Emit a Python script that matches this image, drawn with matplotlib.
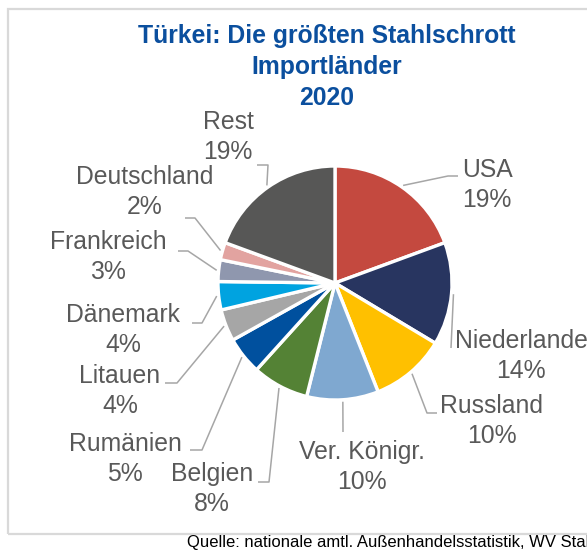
import matplotlib
matplotlib.use("Agg")
import matplotlib.pyplot as plt
from matplotlib import font_manager
import numpy as np

# ---- data ----
countries = ["USA", "Niederlande", "Russland", "Ver. Königr.", "Belgien", "Rumänien",
             "Litauen", "Dänemark", "Frankreich", "Deutschland", "Rest"]
shares = [19.4, 14.2, 10.4, 9.9, 7.8, 5.2, 4.4, 3.9, 3.0, 2.4, 19.4]
colors = ["#C4493F", "#283560", "#FFC000", "#7FA8D0", "#548235", "#00509E",
          "#A6A6A6", "#00A3E0", "#8F97AE", "#E2A3A0", "#575756"]
title = "Türkei: Die größten Stahlschrott\nImportländer\n2020"
source = "Quelle: nationale amtl. Außenhandelsstatistik, WV Stahl"

# ---- layout (pixel coordinates, y downward) ----
label_pos = {
    "USA": (487, 185), "Niederlande": (521, 356), "Russland": (492, 421),
    "Ver. Königr.": (362, 467), "Belgien": (212, 489), "Rumänien": (125, 459),
    "Litauen": (120, 391), "Dänemark": (123, 330), "Frankreich": (108, 257),
    "Deutschland": (145, 192), "Rest": (228, 137),
}
# elbow and end of leader lines
leaders = {
    "USA": [(448, 176), (458, 176)],
    "Niederlande": [(451, 348)],
    "Russland": [(427, 413), (437, 413)],
    "Ver. Königr.": [(343, 432)],
    "Belgien": [(269, 482), (258, 482)],
    "Rumänien": [(202, 450), (190, 450)],
    "Litauen": [(177, 383), (165, 383)],
    "Dänemark": [(202, 323), (192, 323)],
    "Frankreich": [(188, 251), (178, 251)],
    "Deutschland": [(195, 218), (185, 218)],
    "Rest": [(268, 165), (257, 165)],
}

plt.rcParams["font.family"] = ["Liberation Sans", "DejaVu Sans"]

W, H = 587, 550
fig = plt.figure(figsize=(W / 100, H / 100), dpi=100)
ax = fig.add_axes([0, 0, 1, 1])

def P(x, y):
    return (x, H - y)

cx, cy = 335, 283
R = 117
wedges, _ = ax.pie(shares, colors=colors, startangle=90, counterclock=False,
                   center=P(cx, cy), radius=R,
                   wedgeprops=dict(edgecolor="white", linewidth=2.4))
ax.set_xlim(0, W)
ax.set_ylim(0, H)
ax.set_aspect("equal")
ax.axis("off")

# frame
frame = plt.Rectangle(P(8, 534), 620, 525, fill=False, edgecolor="#D9D9D9", linewidth=1.6)
ax.add_patch(frame)

total = sum(shares)
for w, name, v in zip(wedges, countries, shares):
    mid = np.deg2rad((w.theta1 + w.theta2) / 2)
    sx = cx + (R + 2) * np.cos(mid)
    sy = cy - (R + 2) * np.sin(mid)
    pts = [(sx, sy)] + leaders[name]
    xs = [p[0] for p in pts]
    ys = [H - p[1] for p in pts]
    ax.plot(xs, ys, color="#A6A6A6", linewidth=1.1, solid_capstyle="butt")
    tx, ty = label_pos[name]
    ax.text(tx, H - ty, f"{name}\n{round(v / total * 100)}%", ha="center", va="center",
            multialignment="center", fontsize=17.8, color="#595959", linespacing=1.32)

ax.text(327, H - 67, title, ha="center", va="center", multialignment="center",
        fontsize=17.8, fontweight="bold", color="#0B4F9E", linespacing=1.36)
ax.text(187, H - 542, source, ha="left", va="center", fontsize=12, color="black")

fig.savefig("out.png", dpi=100)
